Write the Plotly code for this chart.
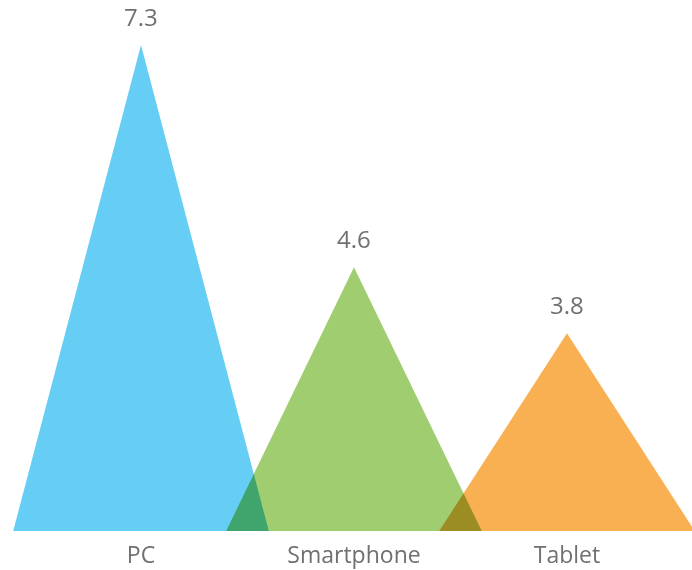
import plotly.graph_objects as go

# Device usage figures per category
categories = ["PC", "Smartphone", "Tablet"]
values = [7.3, 4.6, 3.8]
colors = ["#66CEF5", "#A0CD70", "#F8B052"]

HALF_WIDTH = 0.6      # half of each triangle's base, in category units
Y_MIN, Y_MAX = 1.398, 7.846
LABEL_COLOR = "#707070"
FONT = "Open Sans, Liberation Sans, sans-serif"

fig = go.Figure()

for i, (cat, val, col) in enumerate(zip(categories, values, colors)):
    fig.add_trace(go.Scatter(
        x=[i - HALF_WIDTH, i, i + HALF_WIDTH, i - HALF_WIDTH],
        y=[Y_MIN, val, Y_MIN, Y_MIN],
        mode="lines",
        fill="toself",
        fillcolor=col,
        line=dict(width=0, color=col),
        hoverinfo="skip",
        name=cat,
        showlegend=False,
    ))
    fig.add_annotation(
        x=i, y=val, text=f"{val:.1f}",
        showarrow=False, yanchor="bottom", yshift=10,
        font=dict(size=24, color=LABEL_COLOR, family=FONT),
    )

fig.update_layout(
    width=692, height=570,
    margin=dict(l=0, r=0, t=0, b=39),
    plot_bgcolor="white", paper_bgcolor="white",
    xaxis=dict(
        range=[-0.662, 2.587],
        tickmode="array",
        tickvals=list(range(len(categories))),
        ticktext=categories,
        tickfont=dict(size=23, color=LABEL_COLOR, family=FONT),
        ticklabelstandoff=8,
        showgrid=False, zeroline=False, showline=False,
        ticks="", fixedrange=True,
    ),
    yaxis=dict(
        range=[Y_MIN, Y_MAX],
        visible=False, showgrid=False, zeroline=False, fixedrange=True,
    ),
)

# Overlapping triangles blend by multiplying their colours
blend_js = """
var gd = document.getElementById('{plot_id}');
function blendFills() {
  gd.querySelectorAll('.scatterlayer path.js-fill').forEach(function (p) {
    p.style.mixBlendMode = 'multiply';
  });
}
blendFills();
if (gd.on) { gd.on('plotly_afterplot', blendFills); }
setTimeout(blendFills, 50);
"""

fig.write_html("out.html", post_script=blend_js, config={"displayModeBar": False})
